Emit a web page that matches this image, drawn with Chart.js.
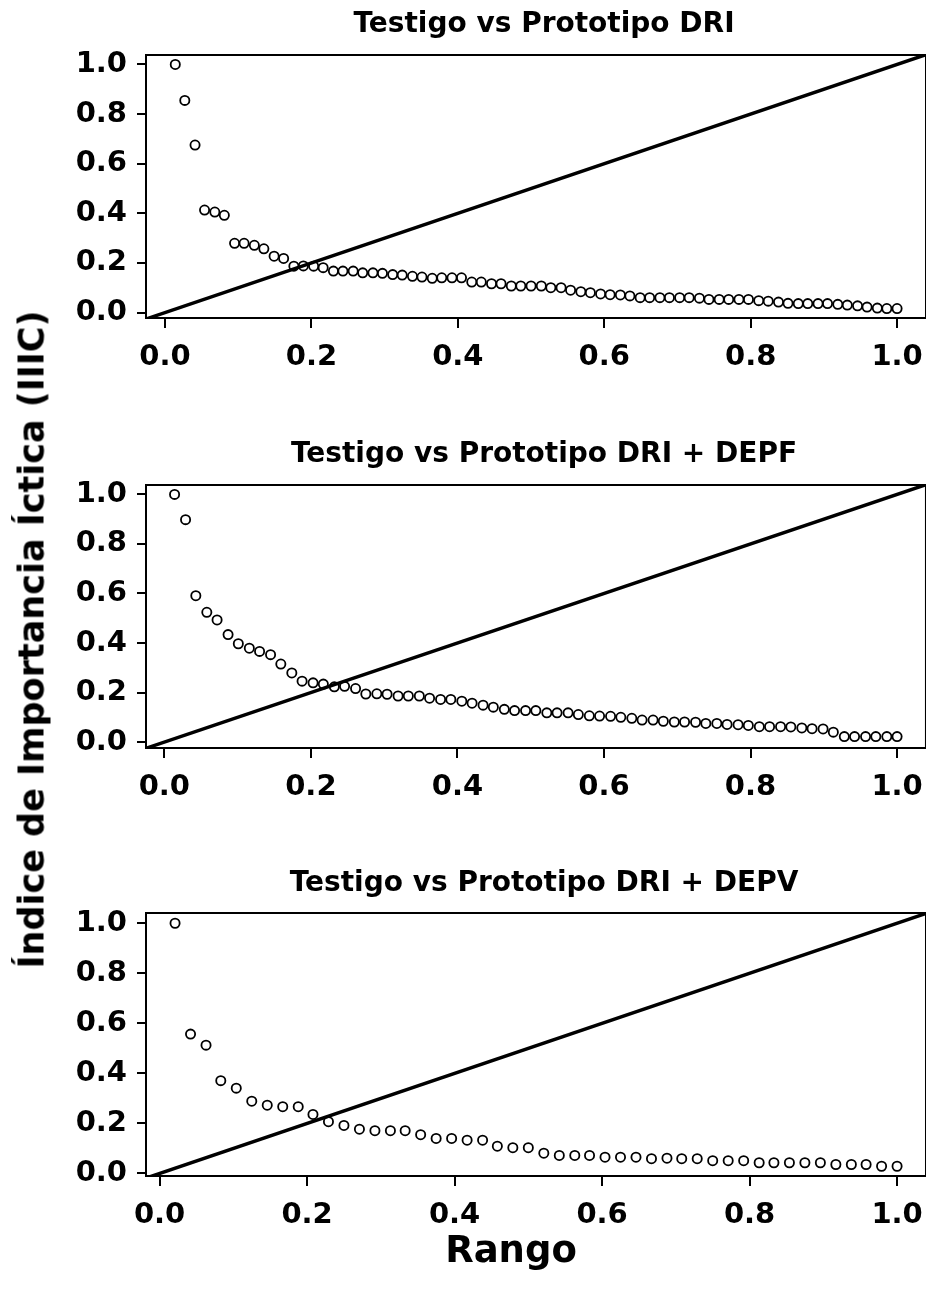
<!DOCTYPE html>
<html>
<head>
<meta charset="utf-8">
<script src="https://cdn.jsdelivr.net/npm/chart.js@4.4.1/dist/chart.umd.min.js"></script>
<style>
  html, body { margin: 0; padding: 0; background: #ffffff; }
  #wrap { position: relative; width: 926px; height: 1301px; background: #ffffff; overflow: hidden; }
  canvas { position: absolute; left: 0; }
  .lbl { position: absolute; font-family: "DejaVu Sans", sans-serif; font-weight: bold; color: #000; line-height: 1; white-space: nowrap; text-align: center; }
  .ptitle { font-size: 28px; width: 700px; left: 194px; }
</style>
</head>
<body>
<div id="wrap">
  <canvas id="c1" width="935" height="380" style="top:0px"></canvas>
  <canvas id="c2" width="935" height="380" style="top:430px"></canvas>
  <canvas id="c3" width="935" height="380" style="top:858px"></canvas>
  <div class="lbl ptitle" id="t1" style="top:9px;"></div>
  <div class="lbl ptitle" id="t2" style="top:439px;"></div>
  <div class="lbl ptitle" id="t3" style="top:868px;"></div>
  <div class="lbl" id="ytitle" style="font-size:35px; width:900px; left:-418px; top:622px; transform: rotate(-90deg);">Índice de Importancia Íctica (IIIC)</div>
  <div class="lbl" id="xtitle" style="font-size:37px; width:300px; left:361px; top:1231px;">Rango</div>
</div>
<script>
// ---- Data ----
const panelTitles = ["Testigo vs Prototipo DRI", "Testigo vs Prototipo DRI + DEPF", "Testigo vs Prototipo DRI + DEPV"];
const xTicks = [0.0, 0.2, 0.4, 0.6, 0.8, 1.0];
const yTicks = [0.0, 0.2, 0.4, 0.6, 0.8, 1.0];

// Panel 1: Testigo vs Prototipo DRI (74 puntos)
const rango1 = [0.014,0.027,0.041,0.054,0.068,0.081,0.095,0.108,0.122,0.135,0.149,0.162,0.176,0.189,0.203,0.216,0.230,0.243,0.257,0.270,0.284,0.297,0.311,0.324,0.338,0.351,0.365,0.378,0.392,0.405,0.419,0.432,0.446,0.459,0.473,0.486,0.500,0.514,0.527,0.541,0.554,0.568,0.581,0.595,0.608,0.622,0.635,0.649,0.662,0.676,0.689,0.703,0.716,0.730,0.743,0.757,0.770,0.784,0.797,0.811,0.824,0.838,0.851,0.865,0.878,0.892,0.905,0.919,0.932,0.946,0.959,0.973,0.986,1.000];
const iiic1 = [1.00,0.855,0.675,0.413,0.405,0.392,0.279,0.279,0.271,0.257,0.227,0.218,0.187,0.188,0.187,0.181,0.167,0.167,0.167,0.160,0.160,0.158,0.153,0.151,0.146,0.143,0.138,0.140,0.140,0.140,0.123,0.123,0.116,0.116,0.107,0.107,0.107,0.107,0.100,0.100,0.090,0.084,0.080,0.075,0.072,0.071,0.067,0.060,0.060,0.060,0.060,0.060,0.060,0.058,0.053,0.053,0.053,0.053,0.053,0.048,0.046,0.042,0.037,0.036,0.036,0.036,0.036,0.033,0.030,0.027,0.022,0.018,0.016,0.016];

// Panel 2: Testigo vs Prototipo DRI + DEPF (69 puntos)
const rango2 = [0.014,0.029,0.043,0.058,0.072,0.087,0.101,0.116,0.130,0.145,0.159,0.174,0.188,0.203,0.217,0.232,0.246,0.261,0.275,0.290,0.304,0.319,0.333,0.348,0.362,0.377,0.391,0.406,0.420,0.435,0.449,0.464,0.478,0.493,0.507,0.522,0.536,0.551,0.565,0.580,0.594,0.609,0.623,0.638,0.652,0.667,0.681,0.696,0.710,0.725,0.739,0.754,0.768,0.783,0.797,0.812,0.826,0.841,0.855,0.870,0.884,0.899,0.913,0.928,0.942,0.957,0.971,0.986,1.000];
const iiic2 = [1.00,0.898,0.591,0.524,0.493,0.434,0.397,0.379,0.366,0.353,0.315,0.279,0.246,0.239,0.234,0.223,0.225,0.216,0.194,0.195,0.193,0.186,0.186,0.186,0.177,0.172,0.172,0.165,0.157,0.149,0.141,0.132,0.127,0.127,0.127,0.118,0.118,0.118,0.111,0.106,0.105,0.104,0.100,0.096,0.089,0.089,0.084,0.081,0.081,0.080,0.075,0.075,0.071,0.070,0.067,0.062,0.062,0.062,0.061,0.057,0.054,0.053,0.040,0.022,0.022,0.022,0.022,0.022,0.022];

// Panel 3: Testigo vs Prototipo DRI + DEPV (48 puntos)
const rango3 = [0.021,0.042,0.063,0.083,0.104,0.125,0.146,0.167,0.188,0.208,0.229,0.250,0.271,0.292,0.313,0.333,0.354,0.375,0.396,0.417,0.438,0.458,0.479,0.500,0.521,0.542,0.563,0.583,0.604,0.625,0.646,0.667,0.688,0.708,0.729,0.750,0.771,0.792,0.813,0.833,0.854,0.875,0.896,0.917,0.938,0.958,0.979,1.000];
const iiic3 = [1.00,0.557,0.513,0.371,0.341,0.289,0.273,0.267,0.267,0.236,0.207,0.192,0.177,0.171,0.171,0.171,0.155,0.140,0.140,0.133,0.133,0.109,0.103,0.103,0.081,0.072,0.072,0.072,0.065,0.065,0.065,0.059,0.061,0.059,0.059,0.051,0.051,0.051,0.043,0.043,0.043,0.043,0.043,0.036,0.036,0.036,0.029,0.029];

// Axis limits (R-style 4% expansion)
const xLims = [[-0.026, 1.0395], [-0.025, 1.0394], [-0.0184, 1.0392]];
const yLims = [[-0.022, 1.038], [-0.024, 1.038], [-0.010, 1.041]];

// ---- Rendering ----
Chart.defaults.font.family = "'DejaVu Sans', sans-serif";
Chart.defaults.color = '#000';

['t1', 't2', 't3'].forEach((id, i) => { document.getElementById(id).textContent = panelTitles[i]; });

const boxPlugin = {
  id: 'plotBox',
  afterDraw(chart) {
    const a = chart.chartArea, ctx = chart.ctx;
    ctx.save();
    ctx.strokeStyle = '#000';
    ctx.lineWidth = 2;
    ctx.strokeRect(a.left, a.top, a.right - a.left, a.bottom - a.top);
    ctx.restore();
  }
};

function makePanel(id, xs, ys, xl, yl) {
  const pts = xs.map((x, i) => ({ x: x, y: ys[i] }));
  const diag = [{ x: xl[0], y: xl[0] }, { x: xl[1], y: xl[1] }];
  const tickFont = { family: "'DejaVu Sans', sans-serif", weight: 'bold', size: 29 };
  new Chart(document.getElementById(id), {
    type: 'scatter',
    data: {
      datasets: [
        { data: diag, showLine: true, pointRadius: 0, borderColor: '#000', borderWidth: 3.5, clip: 0 },
        { data: pts, pointStyle: 'circle', pointRadius: 4.6, borderColor: '#000', backgroundColor: 'rgba(0,0,0,0)', pointBorderWidth: 1.8, borderWidth: 1.8, clip: false }
      ]
    },
    options: {
      responsive: false,
      animation: false,
      devicePixelRatio: 1,
      events: [],
      layout: { padding: { left: 0, right: 1, top: 55, bottom: 0 } },
      plugins: {
        legend: { display: false },
        tooltip: { enabled: false },
        title: { display: false }
      },
      scales: {
        x: {
          type: 'linear', min: xl[0], max: xl[1],
          afterBuildTicks: s => { s.ticks = xTicks.map(v => ({ value: v })); },
          afterFit: s => { s.height = 62; },
          ticks: { font: tickFont, color: '#000', padding: 12, maxRotation: 0, autoSkip: false, callback: v => Number(v).toFixed(1) },
          grid: { display: true, drawOnChartArea: false, drawTicks: true, tickLength: 10, color: '#000', lineWidth: 2 },
          border: { display: true, color: '#000', width: 2 }
        },
        y: {
          type: 'linear', min: yl[0], max: yl[1],
          afterBuildTicks: s => { s.ticks = yTicks.map(v => ({ value: v })); },
          afterFit: s => { s.width = 146; },
          ticks: { font: tickFont, color: '#000', padding: 10, autoSkip: false, callback: v => Number(v).toFixed(1) },
          grid: { display: true, drawOnChartArea: false, drawTicks: true, tickLength: 9, color: '#000', lineWidth: 2 },
          border: { display: true, color: '#000', width: 2 }
        }
      }
    },
    plugins: [boxPlugin]
  });
}

makePanel('c1', rango1, iiic1, xLims[0], yLims[0]);
makePanel('c2', rango2, iiic2, xLims[1], yLims[1]);
makePanel('c3', rango3, iiic3, xLims[2], yLims[2]);
</script>
</body>
</html>
